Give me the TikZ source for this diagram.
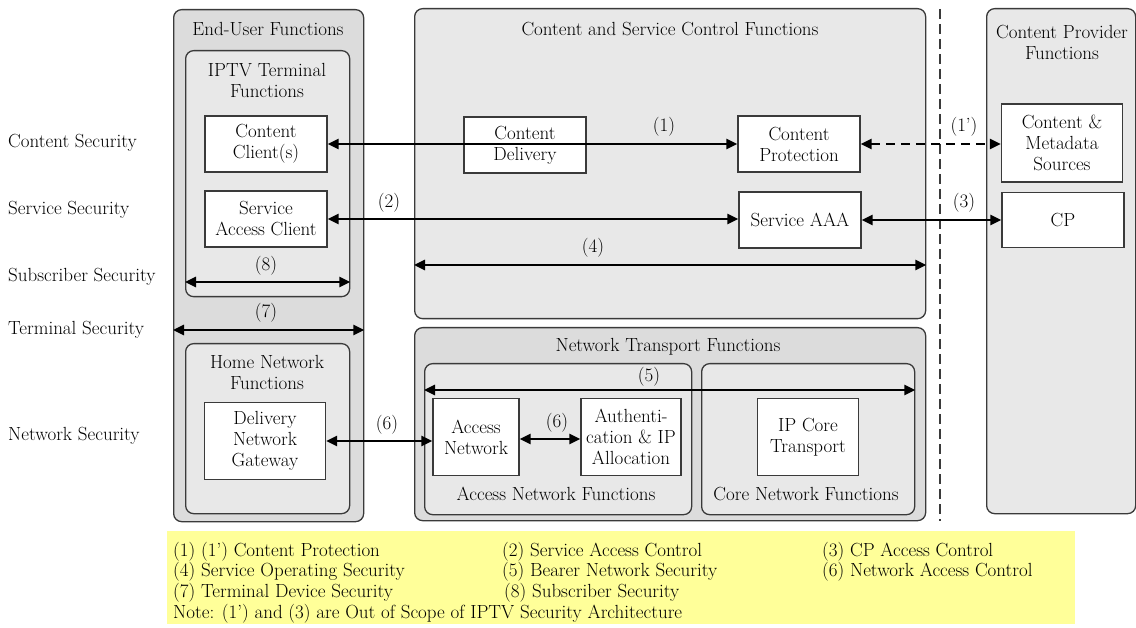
\documentclass[tikz,border=0pt]{standalone}
\usetikzlibrary{arrows.meta}
\definecolor{grisoscuro}{HTML}{DCDCDC}
\definecolor{grisclaro}{HTML}{E8E8E8}
\definecolor{amarillo}{HTML}{FFFF99}
\definecolor{borde}{HTML}{3A3A3A}

\begin{document}
\begin{tikzpicture}[x=1pt,y=-1pt,
    font=\fontsize{19}{21}\selectfont,
    grupo/.style={draw=borde, line width=1.3pt, rounded corners=8pt, anchor=north west, inner sep=0pt},
    caja/.style={draw=borde, line width=1.2pt, fill=white, align=center, inner sep=0pt},
    flecha/.style={line width=2.6pt, {Triangle[length=11pt,width=10pt]}-{Triangle[length=11pt,width=10pt]}},
    titulo/.style={align=center, inner sep=0pt},
    texto/.style={anchor=west, inner sep=0pt}]
    \useasboundingbox (0,0) rectangle (1136,628);
    % contenedores grises
    \node[grupo, fill=grisoscuro, minimum width=190pt, minimum height=512pt] (eu) at (173,9) {};
    \node[grupo, fill=grisclaro, minimum width=164pt, minimum height=246pt] (iptv) at (185,50) {};
    \node[grupo, fill=grisclaro, minimum width=164pt, minimum height=170pt] (home) at (185,343) {};
    \node[grupo, fill=grisclaro, minimum width=511pt, minimum height=310pt] (cscf) at (414,8) {};
    \node[grupo, fill=grisoscuro, minimum width=511pt, minimum height=193pt] (ntf) at (414,327) {};
    \node[grupo, fill=grisclaro, minimum width=267pt, minimum height=151pt] (anf) at (424,363) {};
    \node[grupo, fill=grisclaro, minimum width=213pt, minimum height=151pt] (cnf) at (701,363) {};
    \node[grupo, fill=grisclaro, minimum width=149pt, minimum height=505pt] (cpf) at (986,8) {};
    % titulos
    \node[titulo] (t-eu) at (268,29) {End-User Functions};
    \node[titulo] (t-iptv) at (267,80) {IPTV Terminal\\Functions};
    \node[titulo] (t-home) at (267,372) {Home Network\\Functions};
    \node[titulo] (t-cscf) at (670,29) {Content and Service Control Functions};
    \node[titulo] (t-ntf) at (668,347) {Network Transport Functions};
    \node[titulo] (t-anf) at (556,494) {Access Network Functions};
    \node[titulo] (t-cnf) at (806,494) {Core Network Functions};
    \node[titulo] (t-cpf) at (1062,42) {Content Provider\\Functions};
    % linea de frontera
    \coordinate (limA) at (940,9);
    \coordinate (limB) at (940,521);
    \draw[borde, line width=1.2pt, dash pattern=on 10pt off 5pt] (limA) -- (limB);
    % cajas blancas
    \node[caja, minimum width=122pt, minimum height=56pt] (cc) at (266,144) {Content\\Client(s)};
    \node[caja, minimum width=122pt, minimum height=56pt] (sac) at (266,219) {Service\\Access Client};
    \node[caja, minimum width=122pt, minimum height=56pt] (cd) at (525,145) {Content\\Delivery};
    \node[caja, minimum width=122pt, minimum height=56pt] (cpr) at (799,144) {Content\\Protection};
    \node[caja, minimum width=122pt, minimum height=56pt] (aaa) at (800,220) {Service AAA};
    \node[caja, minimum width=121pt, minimum height=78pt] (cms) at (1062,143) {Content \&\\Metadata\\Sources};
    \node[caja, minimum width=122pt, minimum height=55pt] (cp) at (1063,220) {CP};
    \node[caja, minimum width=121pt, minimum height=77pt] (dng) at (265,441) {Delivery\\Network\\Gateway};
    \node[caja, minimum width=86pt, minimum height=77pt] (an) at (476,437) {Access\\Network};
    \node[caja, minimum width=100pt, minimum height=77pt] (auth) at (631,437) {Authenti-\\cation \& IP\\Allocation};
    \node[caja, minimum width=101pt, minimum height=77pt] (ipc) at (808,437) {IP Core\\Transport};
    % flechas
    \draw[flecha] (cc) -- (cpr);
    \draw[flecha, dash pattern=on 9pt off 6pt] (cpr.east) -- (cpr.east -| cms.west);
    \draw[flecha] (sac.east) -- (sac.east -| aaa.west);
    \draw[flecha] (aaa.east) -- (aaa.east -| cp.west);
    \coordinate (y4) at (0,265);
    \draw[flecha] (cscf.west |- y4) -- (cscf.east |- y4);
    \coordinate (y8) at (0,282);
    \draw[flecha] (iptv.west |- y8) -- (iptv.east |- y8);
    \coordinate (y7) at (0,330);
    \draw[flecha] (eu.west |- y7) -- (eu.east |- y7);
    \coordinate (y5) at (0,390);
    \draw[flecha] (anf.west |- y5) -- (cnf.east |- y5);
    \draw[flecha] (dng.east) -- (dng.east -| an.west);
    \draw[flecha] (an.east |- 0,439) -- (auth.west |- 0,439);
    % numeros
    \node[titulo] (n1) at (664,127) {(1)};
    \node[titulo] (n1p) at (964,127) {(1')};
    \node[titulo] (n2) at (389,203) {(2)};
    \node[titulo] (n3) at (964,203) {(3)};
    \node[titulo] (n4) at (593,248) {(4)};
    \node[titulo] (n8) at (266,266) {(8)};
    \node[titulo] (n7) at (266,313) {(7)};
    \node[titulo] (n5) at (649,377) {(5)};
    \node[titulo] (n6a) at (387,425) {(6)};
    \node[titulo] (n6b) at (557,423) {(6)};
    % etiquetas izquierda
    \node[texto] (s1) at (8,143) {Content Security};
    \node[texto] (s2) at (8,210) {Service Security};
    \node[texto] (s3) at (8,277) {Subscriber Security};
    \node[texto] (s4) at (8,330) {Terminal Security};
    \node[texto] (s5) at (8,436) {Network Security};
    % leyenda amarilla
    \node[fill=amarillo, anchor=north west, minimum width=908pt, minimum height=93pt, inner sep=0pt] (ley) at (167,531) {};
    \node[texto] (l1) at (173,552) {(1) (1') Content Protection};
    \node[texto] (l2) at (502,552) {(2) Service Access Control};
    \node[texto] (l3) at (822,552) {(3) CP Access Control};
    \node[texto] (l4) at (173,572) {(4) Service Operating Security};
    \node[texto] (l5) at (502,572) {(5) Bearer Network Security};
    \node[texto] (l6) at (822,572) {(6) Network Access Control};
    \node[texto] (l7) at (173,593) {(7) Terminal Device Security};
    \node[texto] (l8) at (504,593) {(8) Subscriber Security};
    \node[texto] (l9) at (173,614) {Note: (1') and (3) are Out of Scope of IPTV Security Architecture};
\end{tikzpicture}
\end{document}
